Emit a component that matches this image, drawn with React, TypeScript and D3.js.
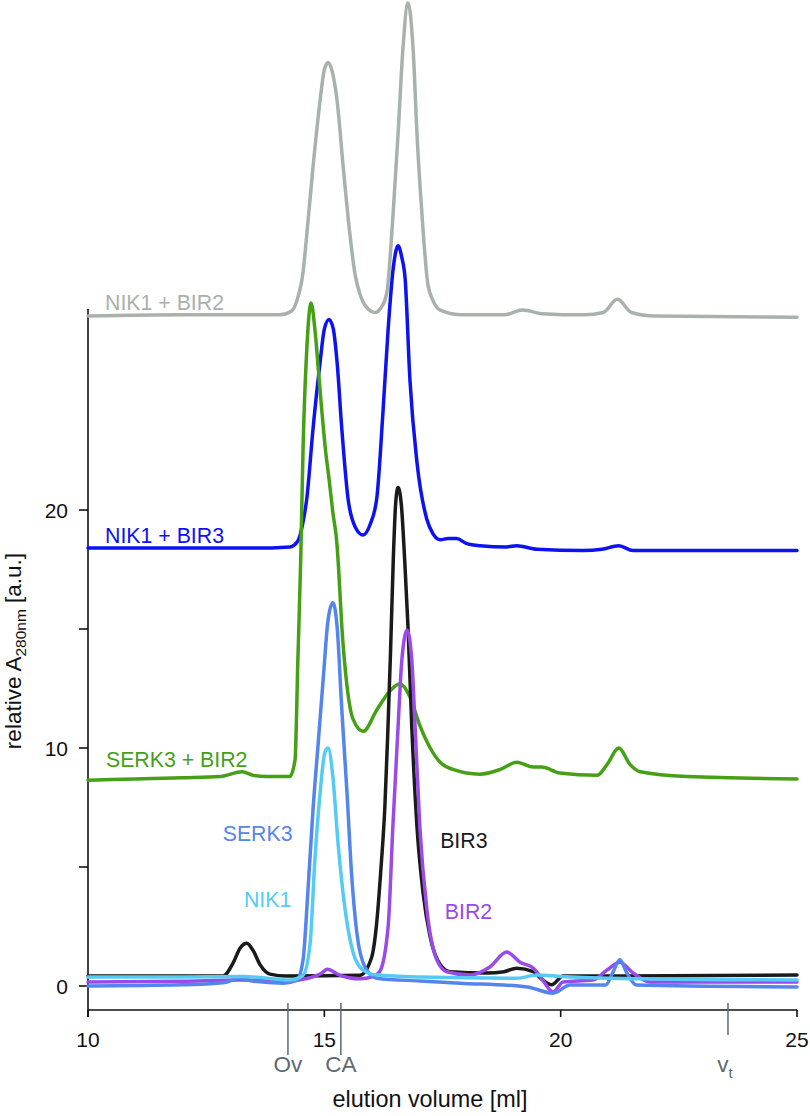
import React from "react";
import * as d3 from "d3";

type Pt = [number, number];

// elution volume [ml], relative A280
const nik1Bir2: Pt[] = [
  [10, 28.15], [12, 28.2], [13.5, 28.2], [14.06, 28.2], [14.3, 28.35], [14.42, 28.8], [14.55, 30.0],
  [14.63, 31.6], [14.76, 34.4], [14.91, 37.2], [15.0, 38.5], [15.08, 38.8], [15.17, 38.4], [15.27, 37.2],
  [15.4, 34.4], [15.54, 31.6], [15.65, 29.9], [15.75, 29.1], [15.9, 28.5], [16.07, 28.3], [16.2, 28.5],
  [16.32, 29.1], [16.45, 32.3], [16.56, 35.8], [16.66, 39.3], [16.77, 41.3], [16.88, 39.3], [16.96, 35.8],
  [17.07, 32.3], [17.19, 29.5], [17.3, 28.8], [17.45, 28.4], [17.93, 28.2], [18.8, 28.2], [19.2, 28.4],
  [19.6, 28.25], [20.5, 28.2], [20.9, 28.3], [21.2, 28.85], [21.5, 28.3], [22, 28.15], [25, 28.1],
];

const nik1Bir3: Pt[] = [
  [10, 18.4], [12, 18.4], [13.5, 18.4], [14.27, 18.45], [14.44, 18.7], [14.55, 19.5], [14.63, 20.5],
  [14.76, 23.4], [14.91, 26.2], [15.0, 27.6], [15.1, 28.0], [15.19, 27.6], [15.27, 26.2], [15.37, 23.4],
  [15.5, 20.5], [15.65, 19.3], [15.82, 18.95], [15.97, 19.4], [16.11, 20.5], [16.24, 24.1], [16.35, 27.6],
  [16.46, 30.2], [16.56, 31.1], [16.64, 30.6], [16.71, 29.7], [16.81, 25.5], [16.96, 22.0], [17.17, 19.6],
  [17.3, 19.0], [17.45, 18.75], [17.62, 18.8], [17.8, 18.8], [18.0, 18.6], [18.29, 18.5], [18.86, 18.45],
  [19.07, 18.5], [19.5, 18.35], [20.47, 18.3], [20.87, 18.35], [21.23, 18.5], [21.53, 18.3], [25, 18.3],
];

const serk3Bir2: Pt[] = [
  [10, 8.65], [11, 8.7], [12, 8.75], [12.8, 8.8], [13.26, 9.0], [13.5, 8.85], [13.78, 8.8], [14.27, 8.8],
  [14.38, 9.5], [14.44, 13.7], [14.5, 17.9], [14.55, 22.6], [14.63, 26.8], [14.72, 28.7], [14.8, 27.6],
  [14.89, 25.5], [14.95, 24.1], [15.02, 22.6], [15.1, 21.3], [15.18, 19.9], [15.27, 18.5], [15.3, 17.6],
  [15.37, 15.1], [15.48, 12.6], [15.61, 11.2], [15.82, 10.7], [16.11, 11.6], [16.39, 12.4], [16.6, 12.7],
  [16.81, 12.15], [17.02, 10.95], [17.24, 10.0], [17.45, 9.4], [17.72, 9.1], [18.29, 8.9], [18.72, 9.1],
  [19.07, 9.4], [19.42, 9.2], [19.6, 9.2], [19.98, 8.95], [20.77, 8.85], [20.98, 9.3], [21.23, 10.0],
  [21.47, 9.3], [21.68, 9.0], [22.67, 8.8], [25, 8.7],
];

const bir3: Pt[] = [
  [10, 0.42], [12, 0.42], [12.86, 0.42], [13.07, 0.97], [13.22, 1.6], [13.36, 1.8], [13.49, 1.5],
  [13.64, 0.9], [13.85, 0.5], [14.2, 0.42], [15.75, 0.45], [16.0, 1.2], [16.1, 2.5], [16.2, 5.0],
  [16.28, 7.5], [16.34, 10.5], [16.4, 14.0], [16.46, 18.0], [16.51, 20.3], [16.56, 20.95], [16.63, 20.2],
  [16.7, 17.9], [16.77, 15.1], [16.85, 10.9], [16.96, 6.7], [17.09, 3.9], [17.24, 2.05], [17.45, 0.9],
  [17.66, 0.6], [18.44, 0.55], [18.8, 0.6], [19.07, 0.75], [19.42, 0.6], [19.62, 0.25], [19.81, 0.05],
  [20.05, 0.42], [20.55, 0.42], [25, 0.46],
];

const bir2: Pt[] = [
  [10, 0.17], [12, 0.2], [13.2, 0.25], [14.2, 0.2], [14.6, 0.3], [14.95, 0.55], [15.06, 0.7], [15.33, 0.45],
  [15.75, 0.3], [16.03, 0.4], [16.17, 0.6], [16.35, 2.5], [16.45, 6.7], [16.56, 10.9], [16.64, 13.7],
  [16.75, 14.95], [16.85, 13.7], [16.92, 10.9], [17.02, 6.7], [17.17, 3.2], [17.38, 1.1], [17.59, 0.6],
  [18.08, 0.46], [18.5, 0.8], [18.86, 1.43], [19.14, 1.0], [19.42, 0.75], [19.62, 0.25], [19.84, -0.25],
  [20.05, 0.17], [20.68, 0.25], [20.98, 0.67], [21.25, 1.0], [21.53, 0.55], [21.89, 0.17], [25, 0.17],
];

const serk3: Pt[] = [
  [10, 0.0], [12, 0.05], [12.9, 0.15], [13.2, 0.33], [13.5, 0.2], [14.13, 0.12], [14.42, 0.25],
  [14.55, 1.1], [14.65, 3.9], [14.76, 7.4], [14.87, 10.2], [14.98, 13.0], [15.08, 15.4], [15.18, 16.1],
  [15.27, 15.1], [15.37, 11.6], [15.48, 8.1], [15.58, 4.6], [15.69, 2.2], [15.86, 0.8], [16.11, 0.33],
  [17.02, 0.21], [17.87, 0.12], [19.29, -0.04], [19.84, -0.3], [20.2, 0.04], [20.95, 0.04], [21.1, 0.55],
  [21.25, 1.1], [21.4, 0.55], [21.6, 0.04], [25, -0.04],
];

const nik1: Pt[] = [
  [10, 0.38], [12, 0.38], [13.3, 0.4], [14.27, 0.25], [14.55, 0.45], [14.7, 1.8], [14.8, 5.3],
  [14.91, 8.1], [15.01, 9.8], [15.08, 10.0], [15.18, 8.8], [15.29, 6.0], [15.44, 3.2], [15.61, 1.4],
  [15.82, 0.67], [16.11, 0.46], [17.02, 0.38], [19.07, 0.33], [19.5, 0.46], [20.0, 0.4], [21, 0.33], [25, 0.25],
];

const seriesNames = ["NIK1 + BIR2", "NIK1 + BIR3", "SERK3 + BIR2", "BIR3", "BIR2", "SERK3", "NIK1"];
const seriesData = [nik1Bir2, nik1Bir3, serk3Bir2, bir3, bir2, serk3, nik1];
const seriesColors = ["#a9b1ad", "#0d12f2", "#45a015", "#1a1a1a", "#9a4ae8", "#5485ee", "#55cbf4"];
// label anchor in data units [ml, value]
const labelPos: Pt[] = [[10.36, 28.4], [10.36, 18.6], [10.38, 9.2], [17.45, 5.8], [17.55, 2.8], [12.85, 6.1], [13.3, 3.3]];

const xTicks = [10, 15, 20, 25];
const yTicks = [0, 5, 10, 15, 20];
const yTickLabels = [0, 10, 20];
const markerNames = ["Ov", "CA", "v"];
const markerSubs = ["", "", "t"];
const markerVols = [14.23, 15.35, 23.54];

export default function App() {
  const W = 810, H = 1116;
  const x = d3.scaleLinear().domain([10, 25]).range([88, 797]);
  const y = d3.scaleLinear().domain([0, 20]).range([986, 510]);
  const axisY = 1010;
  const yTop = y(28.45);
  const line = d3.line<Pt>().x((d) => x(d[0])).y((d) => y(d[1])).curve(d3.curveMonotoneX);
  const font = "'Liberation Sans', Arial, Helvetica, sans-serif";
  const markerColor = "#5d6a70";

  return (
    <svg width={W} height={H} style={{ position: "absolute", left: 0, top: 0, background: "#fff" }} fontFamily={font}>
      {/* axes */}
      <line x1={x(10)} x2={x(10)} y1={yTop} y2={axisY + 7} stroke="#111" strokeWidth={1.6} />
      <line x1={x(10)} x2={x(25)} y1={axisY} y2={axisY} stroke="#111" strokeWidth={1.6} />
      {yTicks.map((t) => (
        <line key={"yt" + t} x1={x(10) - 9} x2={x(10)} y1={y(t)} y2={y(t)} stroke="#111" strokeWidth={1.6} />
      ))}
      {yTickLabels.map((t) => (
        <text key={"yl" + t} x={x(10) - 20} y={y(t) + 8} textAnchor="end" fontSize={21} fill="#111">{t}</text>
      ))}
      {xTicks.map((t) => (
        <line key={"xt" + t} x1={x(t)} x2={x(t)} y1={axisY} y2={axisY + 7} stroke="#111" strokeWidth={1.6} />
      ))}
      {xTicks.map((t) => (
        <text key={"xl" + t} x={x(t)} y={1047} textAnchor="middle" fontSize={21} fill="#111">{t}</text>
      ))}
      {/* markers */}
      {markerVols.map((v, i) => (
        <g key={"m" + i}>
          <line x1={x(v)} x2={x(v)} y1={1003} y2={markerSubs[i] ? 1035 : 1055} stroke={markerColor} strokeWidth={1.5} />
          <text x={x(v) + (markerSubs[i] ? -3 : 0)} y={1072} textAnchor="middle" fontSize={22.5} fill={markerColor}>
            {markerNames[i]}
            {markerSubs[i] ? <tspan fontSize={15} dy={6}>{markerSubs[i]}</tspan> : null}
          </text>
        </g>
      ))}
      {/* axis titles */}
      <text x={430} y={1107} textAnchor="middle" fontSize={23.4} fill="#111">elution volume [ml]</text>
      <text transform="translate(21,651) rotate(-90)" textAnchor="middle" fontSize={22.5} fill="#111">
        relative A<tspan fontSize={15.5} dy={5}>280nm</tspan><tspan dy={-5}> [a.u.]</tspan>
      </text>
      {/* traces */}
      {seriesData.map((d, i) => (
        <path key={"s" + i} d={line(d) || ""} fill="none" stroke={seriesColors[i]} strokeWidth={3.5} strokeLinejoin="round" strokeLinecap="round" />
      ))}
      {/* labels */}
      {seriesNames.map((n, i) => (
        <text key={"l" + i} x={x(labelPos[i][0])} y={y(labelPos[i][1])} fontSize={21.3} fill={seriesColors[i]}>{n}</text>
      ))}
    </svg>
  );
}
